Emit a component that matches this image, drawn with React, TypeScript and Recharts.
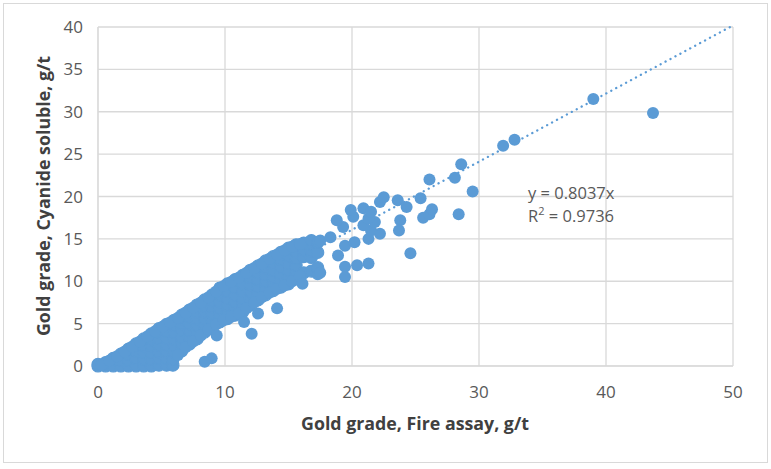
import React from 'react';
import {
  CartesianGrid,
  ReferenceLine,
  Scatter,
  ScatterChart,
  XAxis,
  YAxis,
} from 'recharts';

// dense core of the cloud, read column by column: [fire assay, cyanide values at that x]
const coreColumns: [number, number[]][] = [
  [0.0, [0.0, 0.2]],
  [0.6, [0.0, 0.4]],
  [1.2, [0.0, 0.9]],
  [1.8, [0.0, 0.7, 1.4]],
  [2.4, [0.0, 0.7, 1.4, 2.0]],
  [3.0, [0.0, 0.9, 1.8, 2.6]],
  [3.6, [0.0, 0.8, 1.6, 2.4, 3.2]],
  [4.2, [0.0, 0.8, 1.6, 2.4, 3.1, 3.8]],
  [4.8, [0.1, 0.9, 1.7, 2.5, 3.3, 4.0, 4.4]],
  [5.4, [0.1, 0.9, 1.7, 2.5, 3.3, 4.1, 4.9]],
  [5.9, [0.1, 0.8]],
  [6.0, [1.6, 2.4, 3.2, 4.0, 4.8, 5.4]],
  [6.6, [1.8, 2.6, 3.4, 4.2, 5.0, 5.6, 6.0]],
  [7.2, [2.6, 3.4, 4.2, 5.0, 5.8, 6.6]],
  [7.8, [3.2, 4.0, 4.8, 5.6, 6.4, 7.2]],
  [8.4, [4.0, 4.8, 5.6, 6.4, 7.1, 7.8]],
  [9.0, [4.6, 5.4, 6.2, 7.0, 7.7, 8.4]],
  [9.6, [5.2, 6.0, 6.8, 7.6, 8.4, 9.2]],
  [10.2, [5.6, 6.4, 7.2, 8.0, 8.8, 9.7]],
  [10.8, [6.0, 6.8, 7.6, 8.4, 9.3, 10.2]],
  [11.4, [6.4, 7.2, 8.0, 8.8, 9.7, 10.7]],
  [12.0, [7.2, 8.0, 8.8, 9.6, 10.5, 11.3]],
  [12.6, [7.8, 8.6, 9.4, 10.2, 11.0, 11.8]],
  [13.2, [8.4, 9.2, 10.0, 10.8, 11.6, 12.4]],
  [13.8, [8.9, 9.7, 10.5, 11.3, 12.1, 12.9]],
  [14.4, [9.3, 10.1, 10.9, 11.7, 12.6, 13.4]],
  [15.0, [9.7, 10.5, 11.3, 12.1, 13.0, 13.9]],
  [15.6, [10.3, 11.1, 11.9, 12.7, 13.5, 14.3]],
  [16.2, [11.0, 12.9, 13.7, 14.5]],
  [16.8, [11.2, 12.8, 13.6, 14.4, 14.8]],
  [17.3, [10.9, 11.6, 13.4, 14.6]],
];

// points along the top rim of the core: [fire assay, cyanide]
const upperRim: [number, number][] = [
  [0.3, 0.15], [0.9, 0.65], [1.5, 1.15], [2.1, 1.7], [2.7, 2.3],
  [3.3, 2.9], [3.9, 3.5], [4.5, 4.1], [5.1, 4.65], [5.7, 5.15],
  [6.3, 5.7], [6.9, 6.3], [7.5, 6.9], [8.1, 7.5], [8.7, 8.1],
  [9.3, 8.8], [9.9, 9.45], [10.5, 9.95], [11.1, 10.45], [11.7, 11.0],
  [12.3, 11.55], [12.9, 12.1], [13.5, 12.65], [14.1, 13.15], [14.7, 13.65],
  [15.3, 14.1], [15.9, 14.4],
];

// points along the bottom rim of the core: [fire assay, cyanide]
const lowerRim: [number, number][] = [
  [6.3, 1.3], [6.9, 2.2], [7.5, 2.9], [8.1, 3.6], [8.7, 4.3],
  [9.3, 4.9], [9.9, 5.4], [10.5, 5.8], [11.1, 6.2], [11.7, 6.8],
  [12.3, 7.5], [12.9, 8.1], [13.5, 8.65], [14.1, 9.1], [14.7, 9.5],
  [15.3, 10.0], [15.9, 10.6],
];

// scattered points outside the core: [fire assay, cyanide]
const outliers: [number, number][] = [
  [8.4, 0.5], [8.95, 0.9], [9.35, 3.6], [12.1, 3.8], [11.5, 5.2],
  [12.6, 6.2], [14.1, 6.8], [16.1, 9.7], [17.5, 11.0], [17.5, 14.8],
  [18.3, 15.2], [18.9, 13.05], [19.45, 10.5], [19.45, 11.7], [20.4, 11.9],
  [21.3, 12.1], [19.45, 14.2], [20.2, 14.6], [21.3, 15.0], [22.2, 15.6],
  [21.5, 16.0], [20.9, 16.6], [21.8, 17.0], [21.3, 17.4], [20.1, 17.6],
  [19.3, 16.4], [18.8, 17.2], [19.9, 18.4], [20.9, 18.6], [21.5, 18.2],
  [22.2, 19.35], [22.5, 19.9], [23.6, 19.55], [24.3, 18.75], [25.4, 19.8],
  [23.8, 17.2], [23.7, 16.0], [24.6, 13.3], [25.6, 17.5], [26.1, 17.9],
  [26.3, 18.5], [26.1, 22.0], [28.1, 22.2], [28.6, 23.8], [29.5, 20.6],
  [28.4, 17.9], [31.9, 26.0], [32.8, 26.7], [39.0, 31.5], [43.7, 29.85],
];

const xTicks = [0, 10, 20, 30, 40, 50];
const yTicks = [0, 5, 10, 15, 20, 25, 30, 35, 40];

const trendSlope = 0.8037;
const rSquared = 0.9736;

const corePoints = coreColumns.flatMap(([x, ys]) => ys.map((y) => ({ x, y })));
const otherPoints = [...upperRim, ...lowerRim, ...outliers].map(([x, y]) => ({ x, y }));

const BLUE = '#5b9bd5';
const FONT = '"Open Sans", sans-serif';

export default function App() {
  return (
    <div
      style={{
        position: 'absolute',
        left: 0,
        top: 0,
        width: 771,
        height: 469,
        background: '#fff',
        fontFamily: FONT,
      }}
    >
      <div
        style={{
          position: 'absolute',
          left: 3,
          top: 3,
          width: 763,
          height: 458,
          border: '1px solid #d9d9d9',
        }}
      />
      <ScatterChart
        width={771}
        height={469}
        margin={{ top: 27, right: 38, bottom: 43, left: 0 }}
        style={{ position: 'absolute', left: 0, top: 0 }}
      >
        <CartesianGrid stroke="#d9d9d9" strokeWidth={1.3} />
        <XAxis
          type="number"
          dataKey="x"
          domain={[0, 50]}
          ticks={xTicks}
          height={60}
          tickLine={false}
          axisLine={{ stroke: '#d9d9d9' }}
          tickMargin={14}
          tick={{ fill: '#595959', fontSize: 17, fontFamily: FONT }}
        />
        <YAxis
          type="number"
          dataKey="y"
          domain={[0, 40]}
          ticks={yTicks}
          width={98}
          tickLine={false}
          axisLine={{ stroke: '#d9d9d9' }}
          tickMargin={9}
          tick={{ fill: '#595959', fontSize: 17, fontFamily: FONT }}
        />
        <Scatter
          data={corePoints}
          isAnimationActive={false}
          shape={(p: any) => (
            <circle
              cx={p.cx}
              cy={p.cy}
              r={6}
              fill={BLUE}
              stroke={BLUE}
              strokeWidth={1.2}
            />
          )}
        />
        <Scatter
          data={otherPoints}
          isAnimationActive={false}
          shape={(p: any) => <circle cx={p.cx} cy={p.cy} r={6} fill={BLUE} />}
        />
        <ReferenceLine
          segment={[
            { x: 0, y: 0 },
            { x: 40 / trendSlope, y: 40 },
          ]}
          stroke={BLUE}
          strokeWidth={2.3}
          strokeDasharray="0.1 5.5"
          strokeLinecap="round"
        />
      </ScatterChart>
      <div
        style={{
          position: 'absolute',
          left: 43,
          top: 196,
          transform: 'translate(-50%, -50%) rotate(-90deg)',
          whiteSpace: 'nowrap',
          fontWeight: 700,
          fontSize: 17.8,
          color: '#404040',
        }}
      >
        Gold grade, Cyanide soluble, g/t
      </div>
      <div
        style={{
          position: 'absolute',
          left: 415,
          top: 423,
          transform: 'translate(-50%, -50%)',
          whiteSpace: 'nowrap',
          fontWeight: 700,
          fontSize: 17.8,
          color: '#404040',
        }}
      >
        Gold grade, Fire assay, g/t
      </div>
      <div
        style={{
          position: 'absolute',
          left: 528,
          top: 181,
          fontSize: 16.5,
          lineHeight: '23px',
          color: '#595959',
          whiteSpace: 'nowrap',
        }}
      >
        <div>y = {trendSlope}x</div>
        <div>
          R<sup style={{ fontSize: 11, verticalAlign: 'top', lineHeight: '14px' }}>2</sup> ={' '}
          {rSquared}
        </div>
      </div>
    </div>
  );
}
